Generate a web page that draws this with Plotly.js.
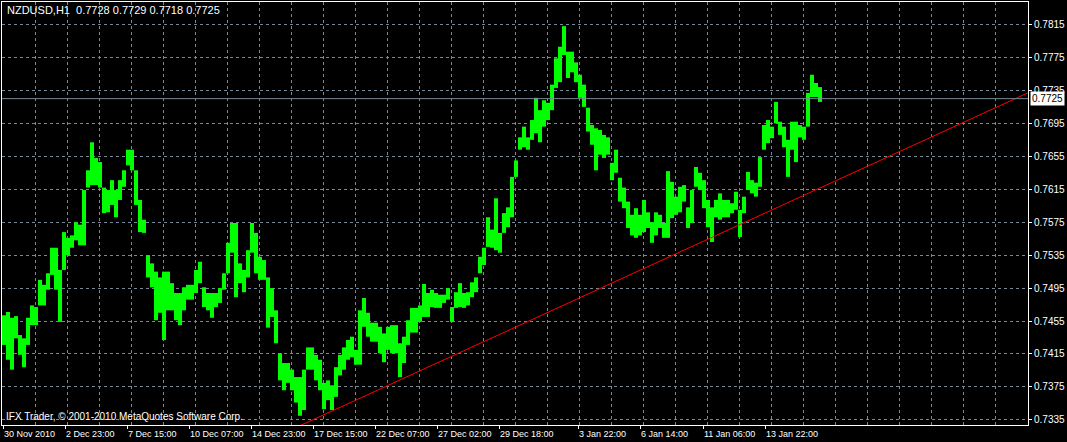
<!DOCTYPE html>
<html><head><meta charset="utf-8">
<script src="https://cdn.plot.ly/plotly-3.0.1.min.js"></script>
<style>html,body{margin:0;padding:0;background:#000;}#chart{width:1067px;height:442px;}</style>
</head><body><div id="chart"></div>
<script>
const symbol = "NZDUSD,H1";
const lastBar = [0.7728, 0.7729, 0.7718, 0.7725]; // open high low close of the last bar

// highs / lows of consecutive 4-hour blocks of the H1 chart (left to right)
const highs = [
0.7462,0.7466,0.7459,0.7461,0.7438,0.7434,0.7459,0.7474,0.7472,0.7505,0.7499,0.7513,0.7544,0.7544,0.7517,0.7563,0.7556,0.7559,0.7575,0.7572,0.7614,0.7638,0.7672,0.7653,0.7648,0.7617,0.7614,0.7626,0.7614,0.7626,0.7638,0.7663,0.7663,0.7638,0.7602,
0.7578,0.7535,0.7525,0.7515,0.7508,0.7515,0.7515,0.7501,0.7489,0.7489,0.7496,0.7499,0.7499,0.7517,0.7527,0.7496,0.7489,0.7489,0.7489,0.7495,0.7513,0.7550,0.7574,0.7574,0.7525,0.7517,0.7541,0.7574,0.7562,0.7533,0.7529,0.7508,0.7495,
0.7468,0.7416,0.7404,0.7404,0.7396,0.7387,0.7387,0.7396,0.7423,0.7423,0.7414,0.7408,0.7380,0.7383,0.7377,0.7399,0.7414,0.7423,0.7432,0.7436,0.7420,0.7468,0.7483,0.7465,0.7453,0.7453,0.7448,0.7440,0.7448,0.7450,0.7450,0.7428,0.7436,0.7456,
0.7471,0.7471,0.7474,0.7500,0.7489,0.7493,0.7489,0.7487,0.7487,0.7495,0.7472,0.7490,0.7501,0.7489,0.7490,0.7502,0.7508,0.7533,0.7544,0.7581,0.7566,0.7604,0.7562,0.7586,0.7593,0.7630,0.7650,0.7678,0.7691,0.7678,0.7699,0.7726,0.7711,0.7723,0.7720,
0.7742,0.7774,0.7788,0.7813,0.7782,0.7782,0.7769,0.7754,0.7742,0.7714,0.7693,0.7689,0.7687,0.7681,0.7678,0.7647,0.7663,0.7629,0.7617,0.7600,0.7584,0.7592,0.7584,0.7602,0.7587,0.7575,0.7587,0.7584,0.7574,0.7637,0.7624,0.7606,0.7618,0.7620,
0.7593,0.7614,0.7642,0.7635,0.7626,0.7602,0.7593,0.7602,0.7610,0.7602,0.7602,0.7598,0.7612,0.7590,0.7606,0.7636,0.7626,0.7623,0.7654,0.7693,0.7699,0.7691,0.7721,0.7697,0.7691,0.7675,0.7697,0.7697,0.7693,0.7691,0.7732,0.7754,0.7744,0.7739
];
const lows = [
0.7426,0.7408,0.7396,0.7434,0.7414,0.7399,0.7426,0.7450,0.7450,0.7474,0.7474,0.7493,0.7511,0.7493,0.7454,0.7517,0.7535,0.7544,0.7553,0.7547,0.7547,0.7617,0.7620,0.7620,0.7617,0.7586,0.7587,0.7596,0.7581,0.7602,0.7618,0.7644,0.7638,0.7596,0.7563,
0.7562,0.7508,0.7496,0.7456,0.7465,0.7432,0.7468,0.7468,0.7456,0.7450,0.7468,0.7481,0.7481,0.7489,0.7501,0.7472,0.7468,0.7459,0.7472,0.7477,0.7493,0.7513,0.7538,0.7484,0.7501,0.7490,0.7508,0.7538,0.7513,0.7505,0.7505,0.7447,0.7460,
0.7428,0.7383,0.7371,0.7380,0.7371,0.7356,0.7340,0.7347,0.7396,0.7396,0.7383,0.7371,0.7348,0.7359,0.7347,0.7363,0.7389,0.7396,0.7408,0.7411,0.7402,0.7402,0.7448,0.7436,0.7430,0.7430,0.7416,0.7405,0.7420,0.7416,0.7416,0.7387,0.7404,0.7426,
0.7441,0.7441,0.7454,0.7460,0.7460,0.7472,0.7471,0.7471,0.7477,0.7481,0.7454,0.7471,0.7472,0.7471,0.7474,0.7484,0.7490,0.7513,0.7523,0.7545,0.7544,0.7541,0.7538,0.7562,0.7569,0.7581,0.7630,0.7663,0.7666,0.7663,0.7675,0.7683,0.7672,0.7691,0.7699,
0.7711,0.7738,0.7745,0.7778,0.7750,0.7757,0.7745,0.7726,0.7715,0.7685,0.7669,0.7638,0.7657,0.7653,0.7657,0.7626,0.7635,0.7600,0.7592,0.7568,0.7559,0.7556,0.7559,0.7563,0.7568,0.7550,0.7559,0.7568,0.7556,0.7556,0.7580,0.7584,0.7587,0.7600,
0.7568,0.7574,0.7618,0.7614,0.7592,0.7569,0.7551,0.7581,0.7578,0.7581,0.7581,0.7586,0.7590,0.7557,0.7586,0.7614,0.7610,0.7606,0.7618,0.7663,0.7671,0.7677,0.7695,0.7681,0.7666,0.7630,0.7663,0.7648,0.7678,0.7675,0.7691,0.7727,0.7727,0.7721
];
const hoursPerBlock = 4;

// time axis (bar index) labels
const tickBars = [3, 65, 127, 189, 251, 313, 375, 437, 499, 578, 640, 703, 765];
const tickLabels = ["30 Nov 2010","2 Dec 23:00","7 Dec 15:00","10 Dec 07:00","14 Dec 23:00","17 Dec 15:00","22 Dec 07:00","27 Dec 02:00","29 Dec 18:00","3 Jan 22:00","6 Jan 14:00","11 Jan 06:00","13 Jan 22:00"];

// trend line anchors (bar index, price)
const trendBars = [300, 1028];
const trendPrices = [0.7328, 0.7732];

const priceTick0 = 0.7335, priceStep = 0.004;

const bx = [], by = [];
highs.forEach((h, i) => {
  const t = hoursPerBlock * (i + 1);
  bx.push(t, t, null);
  by.push(lows[i], h, null);
});

const WHITE = '#ffffff', GRID = '#778899', LIME = '#00ff00';
const FAMILY = 'Liberation Sans, Arial, sans-serif';
const font = {family: FAMILY, size: 10, color: WHITE};

const data = [
  {type: 'scatter', mode: 'lines', x: bx, y: by, connectgaps: false,
   line: {color: LIME, width: 4}, hoverinfo: 'skip'},
  {type: 'scatter', mode: 'lines', x: trendBars, y: trendPrices, xaxis: 'x2',
   line: {color: '#ff0000', width: 1}, hoverinfo: 'skip'}
];

const layout = {
  width: 1067, height: 442,
  margin: {l: 2, r: 39, t: 2, b: 17, pad: 0},
  paper_bgcolor: '#000000', plot_bgcolor: '#000000',
  showlegend: false, font: font,
  title: {text: symbol + '  ' + lastBar.map(v => v.toFixed(4)).join(' '),
          xref: 'container', yref: 'container', x: 7 / 1067, xanchor: 'left',
          y: 1 - 10.5 / 442, yanchor: 'middle', font: {family: FAMILY, size: 11, color: WHITE}},
  xaxis: {range: [2, 1028], tickmode: 'array', tickvals: tickBars, ticktext: tickLabels,
          ticks: 'outside', ticklen: 3, tickcolor: WHITE, tickwidth: 1, tickangle: 0,
          ticklabelposition: 'outside right', showgrid: false, zeroline: false, automargin: false,
          showline: true, mirror: true, linecolor: WHITE, linewidth: 1, fixedrange: true,
          tickfont: {family: FAMILY, size: 9, color: WHITE}},
  xaxis2: {overlaying: 'x', anchor: 'y', range: [2, 1028], tickmode: 'linear', tick0: 3, dtick: 32,
           showgrid: true, gridcolor: GRID, griddash: '3px,3px', gridwidth: 1,
           showticklabels: false, ticks: '', zeroline: false, showline: false, fixedrange: true},
  yaxis: {side: 'right', range: [0.73288, 0.78423], tickmode: 'linear', tick0: priceTick0, dtick: priceStep,
          tickformat: '.4f', ticks: 'outside', ticklen: 3, tickcolor: WHITE, automargin: false,
          showgrid: true, gridcolor: GRID, griddash: '3px,3px', gridwidth: 1,
          zeroline: false, showline: true, mirror: true, linecolor: WHITE, linewidth: 1,
          fixedrange: true, tickfont: font},
  shapes: [{type: 'line', xref: 'paper', x0: 0, x1: 1, yref: 'y', y0: lastBar[3], y1: lastBar[3],
            line: {color: GRID, width: 1}, layer: 'above'}],
  annotations: [
    {xref: 'paper', yref: 'paper', x: 0, y: 0, xanchor: 'left', yanchor: 'bottom',
     xshift: 2, yshift: 1, showarrow: false, font: font,
     text: 'IFX Trader, © 2001-2010 MetaQuotes Software Corp.'},
    {xref: 'paper', yref: 'y', x: 1, y: lastBar[3], xanchor: 'left', yanchor: 'middle',
     xshift: 2, showarrow: false, bgcolor: WHITE, borderpad: 1,
     font: {family: FAMILY, size: 10, color: '#000000'}, text: lastBar[3].toFixed(4)}
  ]
};

Plotly.newPlot('chart', data, layout, {displayModeBar: false, staticPlot: true});
</script>
</body></html>
